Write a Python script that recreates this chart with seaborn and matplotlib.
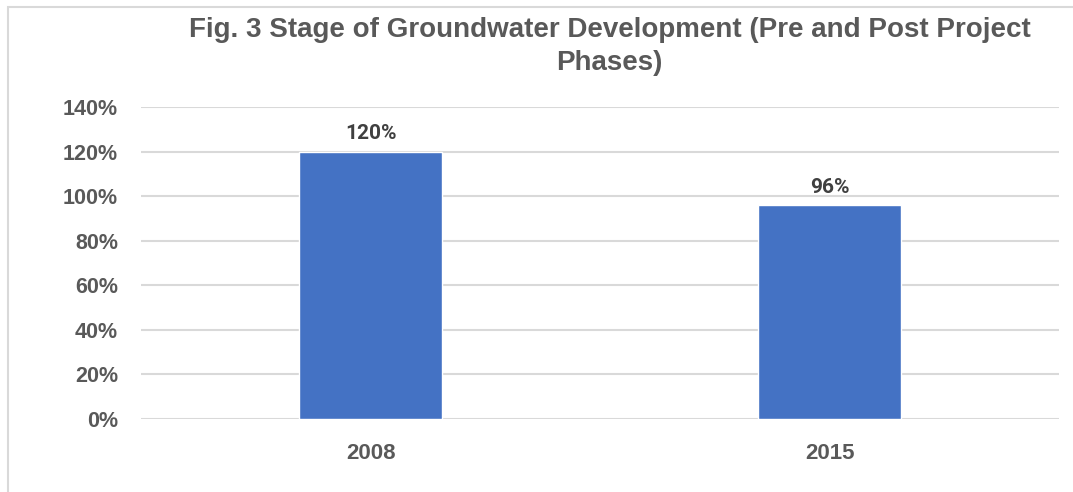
import numpy as np
import pandas as pd
import matplotlib.pyplot as plt
import seaborn as sns
from matplotlib.patches import Rectangle
from matplotlib.ticker import PercentFormatter

years = ['2008', '2015']
stage = [1.20, 0.96]
df = pd.DataFrame({'year': years, 'stage': stage})

sns.set_style('white')
plt.rcParams['font.family'] = ['Liberation Sans', 'DejaVu Sans']

fig = plt.figure(figsize=(10.73, 4.92), dpi=100)
ax = fig.add_axes([0.1314, 0.1484, 0.987 - 0.1314, 0.7825 - 0.1484])

sns.barplot(x='year', y='stage', data=df, ax=ax, color='#4472C4',
            width=0.31, saturation=1)

ax.set_ylim(0, 1.4)
ax.set_xlim(-0.5, 1.5)
ax.set_yticks(np.arange(0, 1.41, 0.2))
ax.yaxis.set_major_formatter(PercentFormatter(1.0, decimals=0))
ax.grid(axis='y', color='#d9d9d9', linewidth=1.5)
ax.set_axisbelow(True)
for s in ax.spines.values():
    s.set_visible(False)
ax.tick_params(axis='y', length=0, labelsize=15.5, labelcolor='#595959', pad=16.5)
ax.tick_params(axis='x', length=0, labelsize=16, labelcolor='#595959', pad=17.5)
for lab in ax.get_xticklabels() + ax.get_yticklabels():
    lab.set_fontweight('bold')
ax.set_xlabel('')
ax.set_ylabel('')

for i, v in enumerate(stage):
    ax.annotate(f'{v:.0%}', (i, v), xytext=(0, 6), textcoords='offset points',
                ha='center', va='bottom', fontsize=15, fontweight='bold',
                color='#404040', family=['Roboto', 'DejaVu Sans'])

fig.text(0.568, 0.905, 'Fig. 3 Stage of Groundwater Development (Pre and Post Project\nPhases)',
         ha='center', va='center', fontsize=20, fontweight='bold',
         color='#595959', linespacing=1.35)

fig.patches.append(Rectangle((8 / 1073, -0.1), 1.2, (492 - 7) / 492 + 0.1,
                             transform=fig.transFigure, fill=False,
                             edgecolor='#d9d9d9', linewidth=1.5))

plt.savefig('out.png', dpi=100)
